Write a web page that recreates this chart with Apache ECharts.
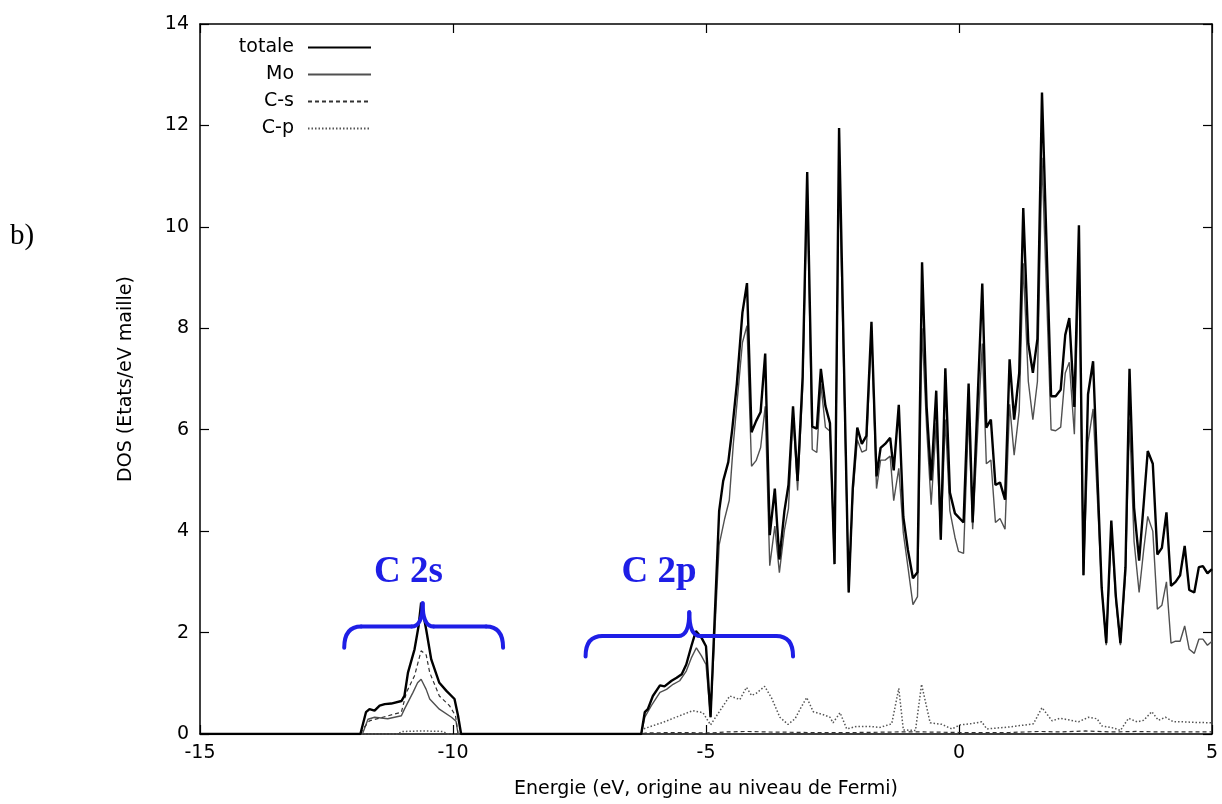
<!DOCTYPE html>
<html>
<head>
<meta charset="utf-8">
<script src="https://cdn.jsdelivr.net/npm/echarts@6/dist/echarts.min.js"></script>
<style>html,body{margin:0;padding:0;background:#fff}#c{width:1222px;height:804px}</style>
</head>
<body>
<div id="c"></div>
<script>
// ---- data (energy in eV, DOS in states/eV cell) ----
const xTicks = [-15, -10, -5, 0, 5];
const yTicks = [0, 2, 4, 6, 8, 10, 12, 14];
const seriesNames = ['totale', 'Mo', 'C-s', 'C-p'];

const totale = [[-15,0],[-11.83,0],[-11.72,0.43],[-11.65,0.49],[-11.55,0.46],[-11.45,0.56],[-11.35,0.59],[-11.22,0.60],[-11.02,0.65],[-10.96,0.75],[-10.89,1.21],[-10.76,1.67],[-10.68,2.13],[-10.63,2.59],[-10.53,2.06],[-10.43,1.47],[-10.27,1.01],[-10.13,0.85],[-9.97,0.69],[-9.90,0.36],[-9.84,0],[-6.28,0],[-6.21,0.43],[-6.15,0.49],[-6.05,0.75],[-5.91,0.96],[-5.82,0.94],[-5.68,1.05],[-5.58,1.11],[-5.48,1.18],[-5.39,1.37],[-5.29,1.73],[-5.20,2.03],[-5.09,1.90],[-5.00,1.73],[-4.91,0.33],[-4.74,4.40],[-4.66,4.99],[-4.56,5.36],[-4.48,6.02],[-4.39,6.91],[-4.28,8.31],[-4.19,8.89],[-4.10,5.95],[-4.01,6.17],[-3.92,6.35],[-3.83,7.50],[-3.74,3.92],[-3.64,4.84],[-3.55,3.44],[-3.45,4.40],[-3.37,4.91],[-3.28,6.46],[-3.19,4.99],[-3.09,7.05],[-3.00,11.08],[-2.90,6.06],[-2.81,6.02],[-2.73,7.20],[-2.64,6.47],[-2.55,6.13],[-2.46,3.35],[-2.37,11.95],[-2.18,2.79],[-2.10,4.84],[-2.01,6.04],[-1.92,5.72],[-1.83,5.88],[-1.73,8.13],[-1.63,5.08],[-1.55,5.64],[-1.46,5.72],[-1.36,5.84],[-1.29,5.20],[-1.19,6.49],[-1.10,4.28],[-1.01,3.63],[-0.91,3.07],[-0.82,3.19],[-0.73,9.30],[-0.64,6.45],[-0.55,5.00],[-0.45,6.77],[-0.36,3.83],[-0.27,7.21],[-0.18,4.76],[-0.08,4.35],[0.09,4.17],[0.19,6.91],[0.27,4.17],[0.46,8.88],[0.54,6.04],[0.63,6.20],[0.72,4.91],[0.81,4.96],[0.91,4.62],[1.00,7.39],[1.09,6.20],[1.19,7.12],[1.27,10.37],[1.37,7.70],[1.46,7.12],[1.55,7.79],[1.64,12.65],[1.82,6.66],[1.91,6.66],[2.01,6.79],[2.10,7.87],[2.18,8.20],[2.28,6.45],[2.37,10.03],[2.46,3.13],[2.55,6.70],[2.65,7.35],[2.82,2.88],[2.91,1.79],[3.01,4.21],[3.10,2.71],[3.19,1.79],[3.29,3.29],[3.37,7.20],[3.46,4.46],[3.56,3.42],[3.65,4.54],[3.73,5.58],[3.83,5.33],[3.92,3.54],[4.01,3.67],[4.10,4.37],[4.19,2.92],[4.28,3.00],[4.37,3.13],[4.46,3.71],[4.55,2.84],[4.65,2.79],[4.74,3.29],[4.82,3.31],[4.91,3.17],[5.00,3.25]];

const mo = [[-15,0],[-11.79,0],[-11.68,0.29],[-11.55,0.33],[-11.29,0.30],[-11.02,0.36],[-10.96,0.49],[-10.79,0.82],[-10.70,1.01],[-10.63,1.08],[-10.53,0.88],[-10.46,0.69],[-10.27,0.49],[-10.03,0.33],[-9.94,0.25],[-9.90,0],[-6.28,0],[-6.21,0.33],[-6.08,0.56],[-5.91,0.82],[-5.78,0.88],[-5.65,0.98],[-5.52,1.05],[-5.39,1.24],[-5.29,1.50],[-5.19,1.70],[-5.09,1.54],[-5.00,1.37],[-4.91,0.33],[-4.74,3.73],[-4.63,4.25],[-4.54,4.61],[-4.46,5.72],[-4.28,7.72],[-4.19,8.05],[-4.10,5.28],[-4.01,5.39],[-3.92,5.65],[-3.83,6.46],[-3.74,3.32],[-3.64,4.10],[-3.55,3.18],[-3.45,4.02],[-3.37,4.45],[-3.28,6.30],[-3.19,4.80],[-3.09,6.80],[-3.00,10.75],[-2.90,5.61],[-2.81,5.55],[-2.73,6.90],[-2.64,6.05],[-2.55,5.97],[-2.46,3.35],[-2.37,11.30],[-2.18,2.79],[-2.10,4.70],[-2.01,5.80],[-1.92,5.56],[-1.83,5.60],[-1.73,7.97],[-1.63,4.84],[-1.55,5.40],[-1.46,5.40],[-1.36,5.48],[-1.29,4.60],[-1.19,5.24],[-1.10,3.96],[-1.01,3.30],[-0.91,2.55],[-0.82,2.71],[-0.73,8.00],[-0.64,6.04],[-0.55,4.52],[-0.45,6.13],[-0.36,3.83],[-0.27,6.20],[-0.18,4.40],[-0.08,3.88],[-0.01,3.60],[0.09,3.56],[0.19,6.29],[0.27,4.04],[0.46,7.70],[0.54,5.33],[0.63,5.40],[0.72,4.17],[0.81,4.25],[0.91,4.04],[1.00,6.50],[1.09,5.50],[1.19,6.37],[1.27,9.28],[1.37,6.95],[1.46,6.20],[1.55,6.95],[1.64,11.36],[1.82,6.00],[1.91,5.98],[2.01,6.05],[2.10,7.12],[2.18,7.33],[2.28,5.91],[2.37,9.37],[2.46,3.13],[2.55,5.75],[2.65,6.41],[2.82,2.88],[2.91,1.75],[3.01,4.04],[3.10,2.63],[3.19,1.75],[3.29,3.13],[3.37,6.20],[3.46,3.79],[3.56,2.79],[3.65,3.63],[3.73,4.29],[3.83,4.00],[3.92,2.46],[4.01,2.54],[4.10,3.00],[4.19,1.79],[4.28,1.83],[4.37,1.83],[4.46,2.13],[4.55,1.67],[4.65,1.59],[4.74,1.87],[4.82,1.87],[4.91,1.75],[5.00,1.83]];

const cs = [[-15,0],[-11.83,0],[-11.78,0.10],[-11.65,0.26],[-11.39,0.33],[-11.02,0.43],[-10.92,0.82],[-10.76,1.15],[-10.63,1.64],[-10.53,1.56],[-10.46,1.21],[-10.27,0.75],[-10.07,0.56],[-9.95,0.36],[-9.90,0],[-6.30,0],[-6.20,0.02],[-5.50,0.03],[-4.90,0.02],[-4.60,0.04],[-4.20,0.05],[-3.80,0.04],[-3.00,0.03],[-2.00,0.03],[-1.20,0.04],[-0.70,0.04],[0.00,0.03],[1.00,0.03],[1.60,0.05],[2.00,0.04],[2.50,0.06],[3.00,0.04],[3.50,0.05],[4.00,0.04],[4.50,0.04],[5.00,0.04]];

const cp = [[-15,0],[-11.10,0],[-11.00,0.05],[-10.60,0.06],[-10.20,0.05],[-10.10,0],[-6.30,0],[-6.24,0.10],[-5.85,0.23],[-5.52,0.36],[-5.26,0.46],[-5.06,0.42],[-4.91,0.18],[-4.73,0.45],[-4.53,0.75],[-4.33,0.68],[-4.20,0.92],[-4.10,0.76],[-4.01,0.80],[-3.84,0.94],[-3.70,0.70],[-3.54,0.33],[-3.38,0.19],[-3.24,0.30],[-3.14,0.49],[-3.01,0.72],[-2.88,0.44],[-2.68,0.38],[-2.55,0.33],[-2.49,0.22],[-2.35,0.42],[-2.22,0.10],[-2.02,0.15],[-1.76,0.15],[-1.56,0.13],[-1.33,0.20],[-1.19,0.90],[-1.10,0.08],[-0.86,0.07],[-0.74,0.98],[-0.57,0.22],[-0.34,0.19],[-0.14,0.10],[0.02,0.18],[0.22,0.20],[0.45,0.24],[0.55,0.10],[1.01,0.14],[1.47,0.20],[1.64,0.52],[1.84,0.26],[2.00,0.31],[2.16,0.28],[2.36,0.24],[2.56,0.33],[2.73,0.30],[2.82,0.16],[3.05,0.12],[3.19,0.07],[3.35,0.31],[3.52,0.24],[3.65,0.27],[3.81,0.44],[3.94,0.27],[4.08,0.33],[4.24,0.24],[4.44,0.24],[4.64,0.23],[5.00,0.22]];

// annotation braces (data coordinates)
const braceLabels = ['C 2s', 'C 2p'];
const braceFrom = [-12.15, -7.38];
const braceTo = [-9.01, -3.28];
const braceTip = [-10.60, -5.33];
const braceEndY = [1.70, 1.53];
const braceLineY = [2.12, 1.93];
const braceTipY = [2.58, 2.40];
const braceLabelX = [-10.88, -5.93];
const braceLabelY = [3.19, 3.19];

// ---- chart ----
const FONT = 'DejaVu Sans';
const BLUE = '#1e1ee6';
const chart = echarts.init(document.getElementById('c'), null, {renderer: 'canvas'});

const axisLineStyle = {color: '#000', width: 1.5};
const tickStyle = {show: true, inside: true, length: 9, lineStyle: {color: '#000', width: 1.2}};

chart.setOption({
  animation: false,
  backgroundColor: '#fff',
  grid: {left: 200, right: 10, top: 24, bottom: 68, containLabel: false},
  legend: {
    orient: 'vertical', align: 'right', right: 850, top: 38, padding: 0,
    itemWidth: 63, itemHeight: 14, itemGap: 8, selectedMode: false,
    data: seriesNames,
    itemStyle: {opacity: 0},
    textStyle: {fontSize: 19, fontFamily: FONT, color: '#000', lineHeight: 14, padding: [0, 9, 0, 0]}
  },
  xAxis: [{
    type: 'value', min: -15, max: 5, interval: 5, position: 'bottom',
    axisLine: {show: true, onZero: false, lineStyle: axisLineStyle},
    axisTick: tickStyle,
    splitLine: {show: false},
    axisLabel: {color: '#000', fontSize: 19, fontFamily: FONT, margin: 10,
      formatter: v => xTicks.indexOf(v) >= 0 ? String(v) : ''},
    name: 'Energie (eV, origine au niveau de Fermi)', nameLocation: 'middle', nameGap: 46,
    nameTextStyle: {color: '#000', fontSize: 19, fontFamily: FONT}
  }, {
    type: 'value', min: -15, max: 5, interval: 5, position: 'top',
    axisLine: {show: true, onZero: false, lineStyle: axisLineStyle},
    axisTick: tickStyle, axisLabel: {show: false}, splitLine: {show: false}
  }],
  yAxis: [{
    type: 'value', min: 0, max: 14, interval: 2, position: 'left',
    axisLine: {show: true, onZero: false, lineStyle: axisLineStyle},
    axisTick: tickStyle,
    splitLine: {show: false},
    axisLabel: {color: '#000', fontSize: 19, fontFamily: FONT, margin: 11,
      formatter: v => yTicks.indexOf(v) >= 0 ? String(v) : ''},
    name: 'DOS (Etats/eV maille)', nameLocation: 'middle', nameGap: 64,
    nameTextStyle: {color: '#000', fontSize: 19, fontFamily: FONT}
  }, {
    type: 'value', min: 0, max: 14, interval: 2, position: 'right',
    axisLine: {show: true, onZero: false, lineStyle: axisLineStyle},
    axisTick: tickStyle, axisLabel: {show: false}, splitLine: {show: false}
  }],
  series: [
    {name: 'totale', type: 'line', data: totale, symbol: 'none', showSymbol: false, z: 4,
      lineStyle: {color: '#000', width: 2.4}, itemStyle: {color: '#000'}},
    {name: 'Mo', type: 'line', data: mo, symbol: 'none', showSymbol: false, z: 3,
      lineStyle: {color: '#505050', width: 1.4}, itemStyle: {color: '#505050'}},
    {name: 'C-s', type: 'line', data: cs, symbol: 'none', showSymbol: false, z: 3,
      lineStyle: {color: '#333', width: 1.2, type: [4, 3]}, itemStyle: {color: '#333'}},
    {name: 'C-p', type: 'line', data: cp, symbol: 'none', showSymbol: false, z: 3,
      lineStyle: {color: '#555', width: 1.5, type: [1.5, 2]}, itemStyle: {color: '#555'}}
  ]
});

// ---- annotations placed through the chart's own coordinate conversion ----
const toPx = (x, y) => chart.convertToPixel({xAxisIndex: 0, yAxisIndex: 0}, [x, y]);
const braceStyle = {stroke: BLUE, lineWidth: 4, fill: null, lineCap: 'round'};
const graphics = [];
braceLabels.forEach((lab, i) => {
  const pL = toPx(braceFrom[i], braceEndY[i]);
  const pR = toPx(braceTo[i], braceEndY[i]);
  const pT = toPx(braceTip[i], braceTipY[i]);
  const yH = toPx(braceTip[i], braceLineY[i])[1];
  const r = 17, r2 = 11;
  const curve = (x1, y1, cx, cy, x2, y2) => ({type: 'bezierCurve', z: 20,
    shape: {x1: x1, y1: y1, cpx1: cx, cpy1: cy, x2: x2, y2: y2}, style: braceStyle});
  graphics.push(curve(pL[0], pL[1], pL[0], yH, pL[0] + r, yH));
  graphics.push({type: 'line', z: 20, shape: {x1: pL[0] + r, y1: yH, x2: pT[0] - r2, y2: yH}, style: braceStyle});
  graphics.push(curve(pT[0] - r2, yH, pT[0], yH, pT[0], pT[1]));
  graphics.push(curve(pT[0], pT[1], pT[0], yH, pT[0] + r2, yH));
  graphics.push({type: 'line', z: 20, shape: {x1: pT[0] + r2, y1: yH, x2: pR[0] - r, y2: yH}, style: braceStyle});
  graphics.push(curve(pR[0] - r, yH, pR[0], yH, pR[0], pR[1]));
  const pLab = toPx(braceLabelX[i], braceLabelY[i]);
  graphics.push({type: 'text', z: 20, x: pLab[0], y: pLab[1],
    style: {text: lab, font: 'bold 37px "Liberation Serif"', fill: BLUE,
      align: 'center', verticalAlign: 'middle', textAlign: 'center', textVerticalAlign: 'middle'}});
});
graphics.push({type: 'text', z: 20, x: 10, y: 236,
  style: {text: 'b)', font: '29px "Liberation Serif"', fill: '#000',
    align: 'left', verticalAlign: 'middle', textAlign: 'left', textVerticalAlign: 'middle'}});
chart.setOption({graphic: graphics});
</script>
</body>
</html>
